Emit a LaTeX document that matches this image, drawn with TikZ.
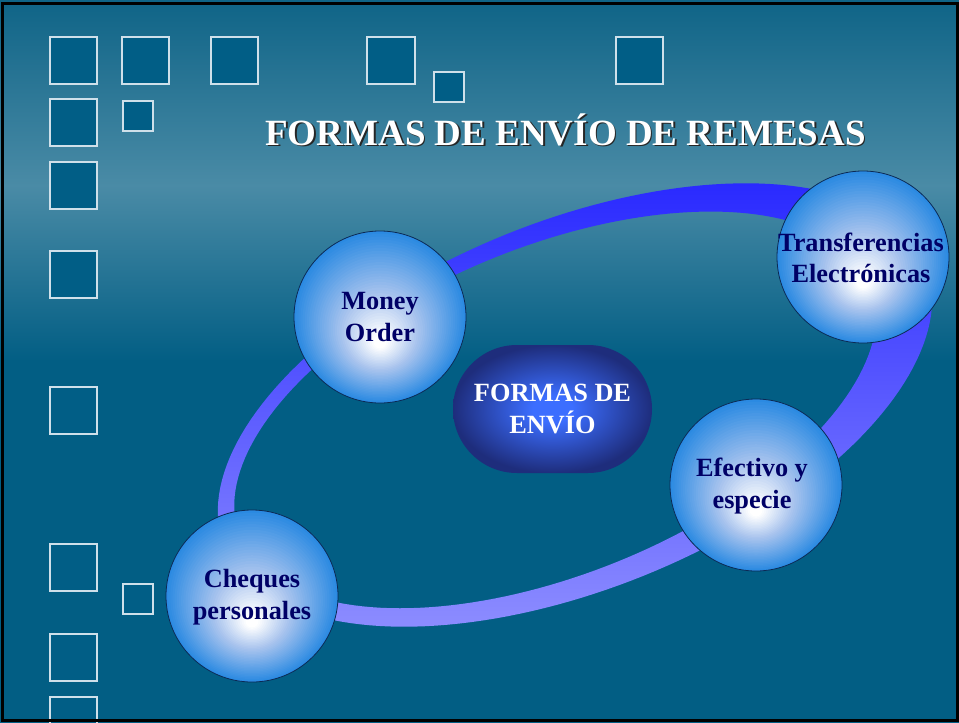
\documentclass[tikz,border=0pt]{standalone}
\usepackage{fontspec}
\setmainfont{Liberation Serif}
\definecolor{bgtop}{HTML}{0F6487}
\definecolor{bglight}{HTML}{4A8BA6}
\definecolor{bgdark}{HTML}{025E84}
\definecolor{sqfill}{HTML}{015E86}
\definecolor{sqline}{HTML}{CFE0EA}
\definecolor{ringtop}{HTML}{2A2AFF}
\definecolor{ringbot}{HTML}{8C8CFF}
\definecolor{ballblue}{HTML}{2B8AE2}
\definecolor{ballmid}{HTML}{A9C4EE}
\definecolor{balledge}{HTML}{0B2A55}
\definecolor{navytext}{HTML}{000066}
\definecolor{pillin}{HTML}{3C6EFF}
\definecolor{pillout}{HTML}{1E2D7C}
\pgfdeclareradialshading{pillshade}{\pgfpoint{0bp}{0bp}}{color(0bp)=(pillin); color(5bp)=(pillin); color(25bp)=(pillout); color(60bp)=(pillout)}
\newcommand\myball[2]{%
  \foreach \i in {40,39,...,18}{%
    \pgfmathsetmacro\myT{\i/40}%
    \pgfmathsetmacro\myP{(\myT-0.45)/0.55*100}%
    \pgfmathsetmacro\myR{86*\myT}%
    \pgfmathsetmacro\myY{#2+(1-\myT)*27}%
    \fill[ballblue!\myP!ballmid] (#1,\myY) circle (\myR);
  }%
  \foreach \i in {17,16,...,1}{%
    \pgfmathsetmacro\myT{\i/40}%
    \pgfmathsetmacro\myP{max(0,(\myT-0.08)/0.37*100)}%
    \pgfmathsetmacro\myR{86*\myT}%
    \pgfmathsetmacro\myY{#2+(1-\myT)*27}%
    \fill[ballmid!\myP!white] (#1,\myY) circle (\myR);
  }%
  \draw[balledge,line width=0.8pt] (#1,#2) circle (86);
}
\tikzset{
  sq/.style={fill=sqfill,draw=sqline,line width=1.4pt},
  balltext/.style={font=\fontsize{26.3}{31.5}\selectfont\bfseries,text=navytext,align=center,inner sep=0pt},
  pilltext/.style={font=\fontsize{26.3}{31.5}\selectfont\bfseries,text=white,align=center,inner sep=0pt},
  titletext/.style={font=\fontsize{37}{44}\selectfont\bfseries,inner sep=0pt,anchor=base}
}
\begin{document}
\begin{tikzpicture}[x=1pt,y=-1pt]
\useasboundingbox (0,0) rectangle (959,723);
\clip (0,0) rectangle (959,723);
\fill[white] (0,0) rectangle (959,723);
% background
\shade[top color=bgtop,bottom color=bglight] (0,0) rectangle (959,186);
\shade[top color=bglight,bottom color=bgdark] (0,185) rectangle (959,361);
\fill[bgdark] (0,360) rectangle (959,723);
% squares
\draw[sq] (50,37) rectangle (97,84);
\draw[sq] (122,37) rectangle (169,84);
\draw[sq] (211,37) rectangle (258,84);
\draw[sq] (367,37) rectangle (415,84);
\draw[sq] (434,72) rectangle (464,102);
\draw[sq] (616,37) rectangle (663,84);
\draw[sq] (50,99) rectangle (97,146);
\draw[sq] (123,101) rectangle (153,131);
\draw[sq] (50,162) rectangle (97,209);
\draw[sq] (50,251) rectangle (97,298);
\draw[sq] (50,387) rectangle (97,434);
\draw[sq] (50,544) rectangle (97,591);
\draw[sq] (123,584) rectangle (153,614);
\draw[sq] (50,634) rectangle (97,681);
\draw[sq] (50,697) rectangle (97,730);
% title
\node[titletext,text=black!85] (titleshadow) at (567.3,146.8) {FORMAS DE ENVÍO DE REMESAS};
\node[titletext,text=white] (title) at (565.5,145) {FORMAS DE ENVÍO DE REMESAS};
% ring
\shade[top color=ringtop,bottom color=ringbot,even odd rule]
  plot[domain=0:360,samples=181,variable=\q] ({575+378*cos(\q)*0.92718-184*sin(\q)*0.37461},{405-378*cos(\q)*0.37461-184*sin(\q)*0.92718}) -- cycle
  plot[domain=0:360,samples=181,variable=\q] ({555.4+340*cos(\q)*0.92718-164*sin(\q)*0.37461},{409.9-340*cos(\q)*0.37461-164*sin(\q)*0.92718}) -- cycle;
% centre pill
\shade[shading=pillshade,rounded corners=64pt] (453,345) rectangle (652,473);
\node[pilltext] (centro) at (552.5,409) {FORMAS DE\\ENVÍO};
% balls
\myball{380}{317}
\node[balltext] (money) at (380,317) {Money\\Order};
\myball{863}{257}
\node[balltext] (transf) at (861,258) {Transferencias\\Electrónicas};
\myball{756}{485}
\node[balltext] (efectivo) at (752,486) {Efectivo y\\especie};
\myball{252}{596}
\node[balltext] (cheques) at (252,597) {Cheques\\personales};
% border
\draw[black,line width=3pt] (2.5,3) rectangle (957.5,720.5);
\end{tikzpicture}
\end{document}
